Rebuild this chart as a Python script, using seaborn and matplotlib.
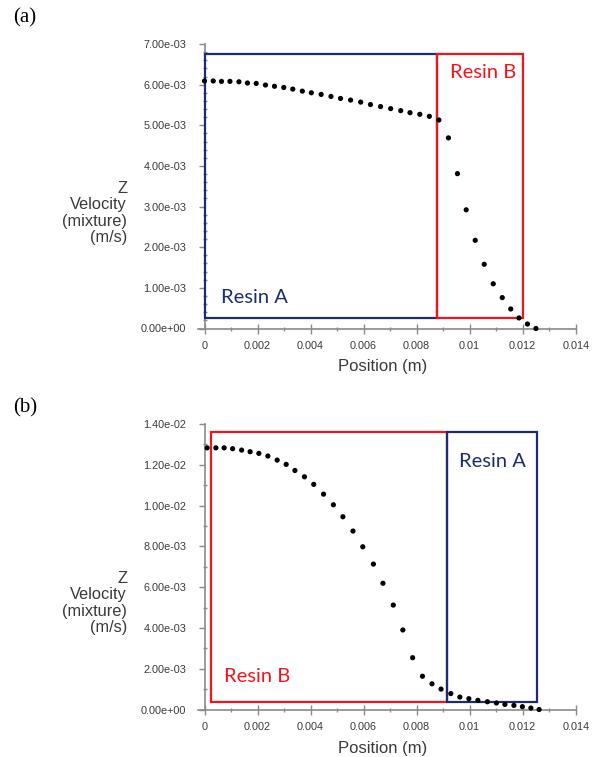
import matplotlib
matplotlib.use("Agg")
import matplotlib.pyplot as plt
from matplotlib.patches import Rectangle
from matplotlib.ticker import FuncFormatter, MultipleLocator
import seaborn as sns
import pandas as pd

# Z velocity profile across the channel, case (a): resin A in the core
pos_a = [0.0000, 0.00033, 0.00064, 0.00096, 0.00130, 0.00162, 0.00195, 0.00230,
         0.00264, 0.00299, 0.00333, 0.00369, 0.00403, 0.00440, 0.00477, 0.00513,
         0.00551, 0.00589, 0.00626, 0.00664, 0.00702, 0.00740, 0.00775, 0.00812,
         0.00848, 0.00884, 0.00920, 0.00954, 0.00987, 0.01021, 0.01055, 0.01089,
         0.01123, 0.01155, 0.01186, 0.01218, 0.01250]
vel_a = [6.09e-3, 6.09e-3, 6.08e-3, 6.08e-3, 6.07e-3, 6.04e-3, 6.03e-3, 5.99e-3,
         5.96e-3, 5.93e-3, 5.89e-3, 5.84e-3, 5.80e-3, 5.76e-3, 5.71e-3, 5.66e-3,
         5.62e-3, 5.57e-3, 5.51e-3, 5.46e-3, 5.41e-3, 5.36e-3, 5.31e-3, 5.27e-3,
         5.22e-3, 5.13e-3, 4.69e-3, 3.81e-3, 2.92e-3, 2.17e-3, 1.58e-3, 1.10e-3,
         0.76e-3, 0.48e-3, 0.26e-3, 0.11e-3, 0.00]

# case (b): resin B in the core
pos_b = [0.0001, 0.00043, 0.00074, 0.00106, 0.00140, 0.00172, 0.00205, 0.00239,
         0.00274, 0.00308, 0.00341, 0.00377, 0.00412, 0.00449, 0.00486, 0.00522,
         0.00560, 0.00597, 0.00637, 0.00673, 0.00712, 0.00748, 0.00785, 0.00822,
         0.00858, 0.00892, 0.00929, 0.00963, 0.00997, 0.01031, 0.01067, 0.01101,
         0.01133, 0.01167, 0.01199, 0.01231, 0.01262]
vel_b = [12.83e-3, 12.83e-3, 12.83e-3, 12.79e-3, 12.72e-3, 12.64e-3, 12.56e-3, 12.43e-3,
         12.23e-3, 12.02e-3, 11.72e-3, 11.41e-3, 11.04e-3, 10.56e-3, 10.04e-3, 9.45e-3,
         8.75e-3, 7.98e-3, 7.13e-3, 6.19e-3, 5.12e-3, 3.90e-3, 2.54e-3, 1.63e-3,
         1.26e-3, 1.00e-3, 0.78e-3, 0.61e-3, 0.53e-3, 0.45e-3, 0.38e-3, 0.32e-3,
         0.25e-3, 0.20e-3, 0.14e-3, 0.07e-3, 0.00]

x_ticks = [0, 0.002, 0.004, 0.006, 0.008, 0.01, 0.012, 0.014]
y_ticks_a = [0, 1e-3, 2e-3, 3e-3, 4e-3, 5e-3, 6e-3, 7e-3]
y_ticks_b = [0, 2e-3, 4e-3, 6e-3, 8e-3, 10e-3, 12e-3, 14e-3]

NAVY = "#1c2d6e"
RED = "#f0141c"
GREY = "#8a8a8a"
TXT = "#3a3a3a"

sns.set_theme(style="white")
plt.rcParams["font.family"] = ["Liberation Sans", "DejaVu Sans"]

fig = plt.figure(figsize=(5.95, 7.57), dpi=100)

W, H = 595.0, 757.0
X0_PX, X14_PX = 204.5, 575.7
XMIN = -0.00025
px_per_x = (X14_PX - X0_PX) / 0.014
left_px = X0_PX + XMIN * px_per_x
ax_left = left_px / W
ax_width = (X14_PX - left_px) / W


def make_axes(y0_px, ytop_px):
    return fig.add_axes([ax_left, 1 - y0_px / H, ax_width, (y0_px - ytop_px) / H])


def style_axes(ax, yticks, yminor):
    ax.set_xlim(XMIN, 0.014)
    ax.set_ylim(0, yticks[-1])
    for s in ("top", "right"):
        ax.spines[s].set_visible(False)
    ax.spines["left"].set_position(("data", 0))
    for s in ("left", "bottom"):
        ax.spines[s].set_color(GREY)
        ax.spines[s].set_linewidth(1.2)
    ax.set_xticks(x_ticks)
    ax.set_yticks(yticks)
    ax.xaxis.set_minor_locator(MultipleLocator(0.001))
    ax.yaxis.set_minor_locator(MultipleLocator(yminor))
    ax.xaxis.set_major_formatter(FuncFormatter(lambda v, p: f"{v:g}"))
    ax.yaxis.set_major_formatter(FuncFormatter(lambda v, p: f"{v:.2e}"))
    ax.tick_params(axis="y", which="major", direction="out", length=4, width=1,
                   color=GREY, labelsize=7.8, labelcolor=TXT, pad=9, left=True)
    ax.tick_params(axis="y", which="minor", direction="inout", length=3.5, width=1,
                   color=GREY, left=True)
    ax.tick_params(axis="x", which="major", direction="inout", length=6.5, width=1,
                   color=GREY, labelsize=7.8, labelcolor=TXT, pad=6, bottom=True)
    ax.tick_params(axis="x", which="minor", direction="inout", length=2.5, width=1,
                   color=GREY, bottom=True)
    ax.set_xlabel("")
    ax.set_ylabel("")
    ax.patch.set_alpha(0)
    ax.grid(False)


def region(ax, x0, x1, y0, y1, color, z):
    ax.add_patch(Rectangle((x0, y0), x1 - x0, y1 - y0, fill=False,
                           edgecolor=color, linewidth=1.6, zorder=z))


df_a = pd.DataFrame({"Position": pos_a, "Velocity": vel_a})
df_b = pd.DataFrame({"Position": pos_b, "Velocity": vel_b})

# ---- panel (a)
ax_a = make_axes(328.5, 44.0)
sns.scatterplot(data=df_a, x="Position", y="Velocity", ax=ax_a, color="black",
                s=14, edgecolor="none", zorder=5, clip_on=False)
style_axes(ax_a, y_ticks_a, 0.2e-3)
region(ax_a, 0.0, 0.00875, 0.27e-3, 6.75e-3, NAVY, 3)
region(ax_a, 0.00875, 0.01203, 0.27e-3, 6.75e-3, RED, 4)
ax_a.text(0.00063, 0.55e-3, "Resin A", color=NAVY, fontsize=14.5,
          family=["Lato", "DejaVu Sans"], ha="left", va="bottom")
ax_a.text(0.0105, 6.1e-3, "Resin B", color=RED, fontsize=14.5,
          family=["Lato", "DejaVu Sans"], ha="center", va="bottom")

# ---- panel (b)
ax_b = make_axes(709.5, 424.0)
sns.scatterplot(data=df_b, x="Position", y="Velocity", ax=ax_b, color="black",
                s=14, edgecolor="none", zorder=5, clip_on=False)
style_axes(ax_b, y_ticks_b, 1e-3)
region(ax_b, 0.00026, 0.00916, 0.37e-3, 13.6e-3, RED, 3)
region(ax_b, 0.00916, 0.01255, 0.37e-3, 13.6e-3, NAVY, 4)
ax_b.text(0.00075, 1.2e-3, "Resin B", color=RED, fontsize=14.5,
          family=["Lato", "DejaVu Sans"], ha="left", va="bottom")
ax_b.text(0.01085, 11.75e-3, "Resin A", color=NAVY, fontsize=14.5,
          family=["Lato", "DejaVu Sans"], ha="center", va="bottom")

# axis titles
ylab = "Z\nVelocity\n(mixture)\n(m/s)"
fig.text(127 / W, 1 - 213 / H, ylab, ha="right", va="center", fontsize=11.8,
         color=TXT, linespacing=1.1)
fig.text(127 / W, 1 - 603 / H, ylab, ha="right", va="center", fontsize=11.8,
         color=TXT, linespacing=1.1)
fig.text(383 / W, 1 - 367 / H, "Position (m)", ha="center", va="center",
         fontsize=12, color=TXT)
fig.text(383 / W, 1 - 748 / H, "Position (m)", ha="center", va="center",
         fontsize=12, color=TXT)

# panel letters
fig.text(13 / W, 1 - 18 / H, "(a)", ha="left", va="center", fontsize=15,
         family=["Liberation Serif", "DejaVu Serif"], color="black")
fig.text(13 / W, 1 - 408 / H, "(b)", ha="left", va="center", fontsize=15,
         family=["Liberation Serif", "DejaVu Serif"], color="black")

fig.savefig("out.png", dpi=100)
